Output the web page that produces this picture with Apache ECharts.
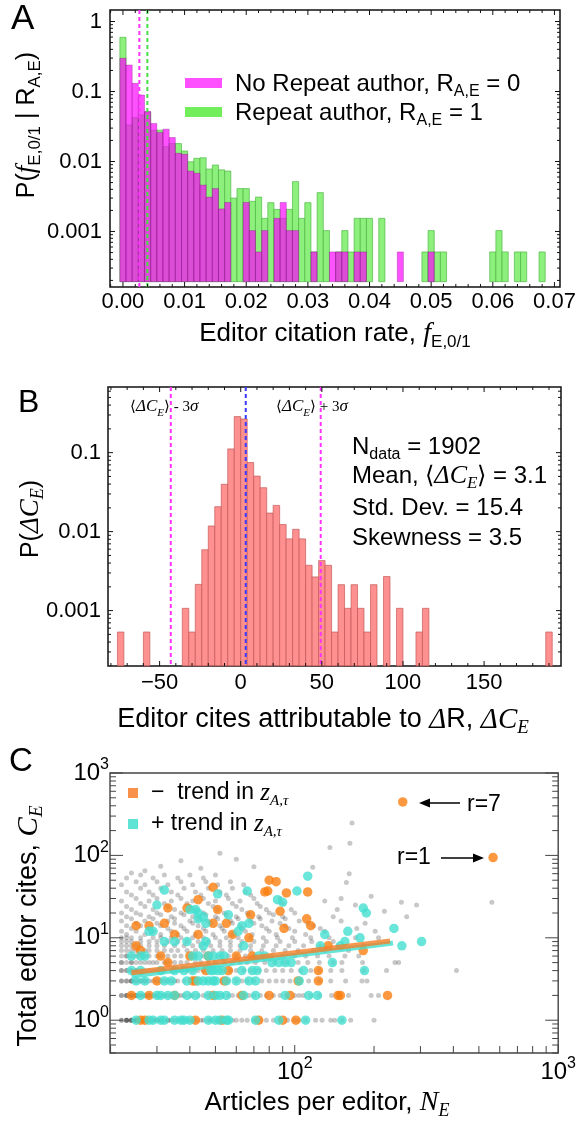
<!DOCTYPE html>
<html><head><meta charset="utf-8">
<script src="https://cdn.jsdelivr.net/npm/echarts@6/dist/echarts.min.js"></script>
<style>html,body{margin:0;padding:0;background:#fff}#c{width:579px;height:1121px}</style>
</head><body><div id="c"></div>
<script>
// ================= Panel A data =================
const binWidthA = 0.001;
const binCentersA = [0.000,0.001,0.002,0.003,0.004,0.005,0.006,0.007,0.008,0.009,0.010,0.011,0.012,0.013,0.014,0.015,0.016,0.017,0.018,0.019,0.020,0.021,0.022,0.023,0.024,0.025,0.026,0.027,0.028,0.029,0.030,0.031,0.032,0.033,0.034,0.035,0.036,0.037,0.038,0.039,0.040,0.041,0.042,0.043,0.044,0.045,0.046,0.047,0.048,0.049,0.050,0.051,0.052,0.053,0.054,0.055,0.056,0.057,0.058,0.059,0.060,0.061,0.062,0.063,0.064,0.065,0.066,0.067,0.068];
const noRepeatA = [0.298,0.239,0.131,0.089,0.052,0.035,0.026,0.029,0.022,0.0131,0.0127,0.0073,0.0068,0.0046,0.0031,0.0041,0.0021,0.0026,null,null,0.0026,0.00103,0.00051,0.00103,null,0.00154,0.0026,0.00103,0.00103,null,null,0.00051,null,null,0.00051,0.00051,0.00051,null,0.00051,0.00051,null,null,null,null,null,0.00051,null,null,null,null,0.00051,null,null,null,null,null,null,null,null,null,null,null,null,null,null,null,null,null,null];
const repeatA = [0.594,0.0332,0.0423,0.0462,0.051,0.028,0.028,0.0163,0.018,0.018,0.0141,0.0099,0.0111,0.0113,0.0078,0.0089,0.0076,0.0073,0.0030,0.0041,0.0041,0.0027,0.0031,0.00154,0.00258,0.00207,0.00154,0.00207,0.00515,0.00154,0.00258,0.00051,0.00359,0.00103,null,0.00051,0.00103,0.00051,0.00154,0.00154,0.00154,null,0.00154,null,null,null,null,null,null,0.00051,0.00103,0.00051,0.00051,null,null,null,null,null,null,null,0.00051,0.00103,0.00051,null,0.00051,0.00051,null,null,0.00051];
const meanNoRepeatA = 0.00266;
const meanRepeatA = 0.00396;
const baseA = 0.000192;
const xTicksA = [0,0.01,0.02,0.03,0.04,0.05,0.06,0.07];
const xTickLabelsA = ['0.00','0.01','0.02','0.03','0.04','0.05','0.06','0.07'];
const xMinorA = [-0.002,0.002,0.004,0.006,0.008,0.012,0.014,0.016,0.018,0.022,0.024,0.026,0.028,0.032,0.034,0.036,0.038,0.042,0.044,0.046,0.048,0.052,0.054,0.056,0.058,0.062,0.064,0.066,0.068];
const yTicksA = [0.001,0.01,0.1,1];
const yTickLabelsA = ['0.001','0.01','0.1','1'];
const yMinorA = [0.0002,0.0003,0.0004,0.0005,0.0006,0.0007,0.0008,0.0009,0.002,0.003,0.004,0.005,0.006,0.007,0.008,0.009,0.02,0.03,0.04,0.05,0.06,0.07,0.08,0.09,0.2,0.3,0.4,0.5,0.6,0.7,0.8,0.9];

// ================= Panel B data =================
const binWidthB = 4;
const binStartsB = [-76,-60,-36,-32,-28,-24,-20,-16,-12,-8,-4,0,4,8,12,16,20,24,28,32,36,40,44,48,52,56,60,64,68,72,76,80,88,96,108,112,188];
const probB = [0.000536,0.000536,0.00107,0.000536,0.00215,0.0059,0.0118,0.0207,0.0398,0.1116,0.286,0.267,0.075,0.0505,0.036,0.0172,0.0215,0.0123,0.0081,0.0107,0.0081,0.00375,0.00267,0.0043,0.00375,0.000536,0.00213,0.00107,0.00213,0.00107,0.000536,0.00213,0.0027,0.00107,0.000536,0.00107,0.000536];
const meanB = 3.1;
const lowerB = -43.1;
const upperB = 49.3;
const baseB = 0.0002;
const xTicksB = [-50,0,50,100,150];
const xTickLabelsB = ['\u221250','0','50','100','150'];
const xMinorB = [-80,-70,-60,-40,-30,-20,-10,10,20,30,40,60,70,80,90,110,120,130,140,160,170,180,190];
const yTicksB = [0.001,0.01,0.1];
const yTickLabelsB = ['0.001','0.01','0.1'];
const yMinorB = [0.0003,0.0004,0.0005,0.0006,0.0007,0.0008,0.0009,0.002,0.003,0.004,0.005,0.006,0.007,0.008,0.009,0.02,0.03,0.04,0.05,0.06,0.07,0.08,0.09,0.2,0.3,0.4,0.5,0.6];

// ================= Panel C data =================
const grayRow1 = [22,22,23,23,23,23,24,24,24,24,25,25,25,25,26,26,26,27,27,27,28,28,29,29,30,30,31,31,32,33,33,34,35,36,37,38,39,40,41,42,44,45,47,48,50,52,54,56,58,60,63,66,70,74,78,83,88,94,100,104,110,120,127,137,142,151,163,200];
const grayRow2 = [22,22,23,23,23,24,24,24,25,25,25,26,26,27,27,28,28,29,30,30,31,32,33,34,35,36,37,38,40,41,43,45,47,49,51,53,56,58,61,64,67,70,74,78,83,88,93,100,104,108,115,124,138,148,160,195,208];
const grayRow3 = [22,22,23,23,24,24,24,25,25,26,26,27,27,28,29,30,31,32,33,34,35,36,38,40,42,44,46,48,50,53,56,60,63,66,70,75,80,85,90,96,103,113,124,137,156,180,188];
const grayRow4 = [22,22,23,23,24,24,25,25,26,27,28,29,30,31,32,34,35,37,39,41,43,45,48,50,53,57,60,64,68,73,78,84,90,97,105,115,124,137,151,183,223,411];
const grayRow5 = [22,22,23,24,24,25,26,27,28,29,30,32,33,35,37,39,42,44,47,50,54,58,62,66,71,77,84,92,103,112,124,140,151,181,240,248];
const grayRow6 = [22,23,23,24,25,26,27,28,30,31,33,35,37,40,42,45,48,52,56,60,65,70,76,82,90,100,110,122,135,155,175];
const grayRow7 = [22,23,24,25,27,28,30,32,34,36,39,42,45,49,53,57,62,68,75,83,92,103,118,130,160];
const grayRow8 = [22,23,24,25,26,28,30,32,35,38,41,44,48,52,57,62,68,76,85,95,108,125,146,182];
const grayRow9 = [22,23,24,26,28,30,33,36,39,43,47,52,57,63,70,78,88,100,116,140];
const grayRow10 = [22,23,24,26,29,31,34,37,41,45,50,55,61,68,76,86,98,115,135,170,208];
const grayUpper = [[23,11],[27,11],[31,11],[36,11],[42,11],[49,11],[58,11],[69,11],[85,11],[110,11],
[22,12],[25,12],[29,12],[34,12],[39,12],[46,12],[54,12],[65,12],[80,12],[100,12],[130,12],[202,12],
[24,13],[28,13],[33,13],[38,13],[45,13],[53,13],[63,13],[78,13],[95,13],[125,13],[172,13],
[23,14],[26,14],[31,14],[37,14],[43,14],[52,14],[62,14],[75,14],[92,14],[118,14],
[25,15],[30,15],[35,15],[41,15],[48,15],[58,15],[70,15],[88,15],[112,15],[185,15],
[22,16],[27,16],[33,16],[40,16],[47,16],[57,16],[68,16],[82,16],[104,16],[150,16],
[24,17],[29,17],[35,17],[43,17],[51,17],[61,17],[74,17],[92,17],[140,18],
[23,18],[28,18],[34,18],[41,18],[50,18],[60,18],[73,18],[90,18],[266,18],
[26,19],[31,19],[38,19],[46,19],[55,19],[67,19],[83,19],[219,21],
[22,20],[25,20],[30,20],[37,20],[45,20],[54,20],[66,20],[80,20],[100,20],[145,22],
[24,22],[29,22],[35,22],[42,22],[51,22],[63,22],[78,22],[97,22],
[23,24],[27,24],[33,24],[40,24],[49,24],[60,24],[74,24],[290,25],[170,25],
[26,26],[32,26],[39,26],[47,26],[58,26],[72,26],[90,26],
[22,28],[28,28],[34,28],[41,28],[50,28],[62,28],[254,27],[130,28],
[25,30],[30,30],[37,30],[45,30],[56,30],[70,30],[88,30],[150,30],
[24,33],[29,33],[36,33],[44,33],[55,33],[68,33],[195,32],
[23,36],[28,36],[34,36],[42,36],[52,36],[65,36],
[26,40],[31,40],[38,40],[47,40],[58,40],
[22,44],[27,44],[33,44],[41,44],[51,44],[64,44],
[25,48],[30,48],[37,48],[46,48],[57,48],[157,47],
[23,53],[29,53],[36,53],[45,53],
[26,58],[32,58],[40,58],[50,58],
[24,61],[27,65],[31,74],[37,86],[52,106],[70,73],[117,72],[161,60],[136,125],[162,140],[165,247],[560,27],[44,70],[60,90]];
const orangePts = [[80,50],[85,48],[77,36],[79,37],[93,35],[49,41],[112,36],[43,29],[33,23],[39,23],[51,22],[88,21],[68,19],[111,17],[115,14],[28,14],[49,15],[55,15],[91,13],[25,14],[32,15],[35,11],[43,11],[58,11],[67,10],[25,8],[26,7],[31,6],[40,6],[47,6],[60,6],[69,6],[134,8],[182,7],[33,5],[46,4],[56,4],[123,4],[30,3],[41,3],[42,3],[54,3],[103,3],[123,3],
[24,2],[28,2],[35,2],[49,2],[63,2],[80,2],[96,2],[146,2],[149,2],[225,2],
[26,1],[27,1],[42,1],[53,1],[73,1],[90,1],[101,1],
[257,445],[566,94]];
const cyanPts = [[112,56],[30,25],[32,38],[51,34],[66,37],[102,37],[86,29],[90,27],[40,22],[42,22],[43,20],[43,17],[45,18],[46,15],[56,19],[61,12],[63,14],[67,15],[28,12],[29,12],[32,9],[35,9],[39,9],[45,8],[46,9],[64,8],[130,11],[125,8],
[182,23],[187,20],[159,12],[177,10],[155,9],[149,8],[238,13],[255,8],[303,9],
[24,6],[26,6],[27,6],[41,6],[43,6],[47,6],[49,6],[52,6],[54,6],[73,6],[77,6],[82,5],[87,5],[92,5],[97,5],[139,5],
[24,4],[26,4],[31,4],[35,4],[38,4],[41,4],[48,4],[49,4],[51,4],[53,4],[63,4],[69,4],[72,4],[108,4],[184,4],
[25,3],[27,3],[32,3],[34,3],[39,3],[43,3],[45,3],[47,3],[49,3],[50,3],[55,3],[60,3],[67,3],[71,3],[104,3],
[26,2],[30,2],[31,2],[33,2],[35,2],[39,2],[42,2],[47,2],[50,2],[52,2],[55,2],[64,2],[71,2],[92,2],[113,2],[122,2],
[25,1],[28,1],[29,1],[31,1],[32,1],[35,1],[37,1],[38,1],[40,1],[47,1],[50,1],[52,1],[55,1],[56,1],[71,1],[87,1],[110,1],[151,1]];
const trendNeg = [[24,3.76],[230,9.14]];
const trendPos = [[24,3.43],[236,8.65]];
const xTicksC = [100,1000];
const xTickExpC = ['2','3'];
const xMinorC = [20,30,40,50,60,70,80,90,200,300,400,500,600,700,800,900];
const yTicksC = [1,10,100,1000];
const yTickExpC = ['0','1','2','3'];
const yMinorC = [0.4,0.5,0.6,0.7,0.8,0.9,2,3,4,5,6,7,8,9,20,30,40,50,60,70,80,90,200,300,400,500,600,700,800,900];

// ================= helpers =================
const FONT = 'Liberation Sans';
const SERIF = 'Liberation Serif';

function R(fs, ss) {
  const L = fs + 8;
  return {
    n: {fontFamily: FONT, fontSize: fs, lineHeight: L, color: '#000', fill: '#000'},
    i: {fontFamily: SERIF, fontStyle: 'italic', fontSize: fs + 2, lineHeight: L, color: '#000', fill: '#000'},
    s: {fontFamily: SERIF, fontSize: fs, lineHeight: L, color: '#000', fill: '#000'},
    sub: {fontFamily: FONT, fontSize: ss, lineHeight: ss, verticalAlign: 'bottom', color: '#000', fill: '#000'},
    isub: {fontFamily: SERIF, fontStyle: 'italic', fontSize: ss + 1, lineHeight: ss, verticalAlign: 'bottom', color: '#000', fill: '#000'},
    sup: {fontFamily: FONT, fontSize: ss, lineHeight: ss, verticalAlign: 'top', color: '#000', fill: '#000'}
  };
}

function labelFrom(ticks, labels, log) {
  return function (v) {
    for (let i = 0; i < ticks.length; i++) {
      const d = log ? Math.abs(Math.log10(v) - Math.log10(ticks[i])) : Math.abs(v - ticks[i]);
      if (d < 1e-6 * (1 + Math.abs(ticks[i]))) return labels[i];
    }
    return '';
  };
}

function axisBase(extra) {
  return Object.assign({
    axisLine: {show: false}, axisTick: {show: false}, splitLine: {show: false},
    minorTick: {show: false}, minorSplitLine: {show: false}
  }, extra);
}

function tickSeries(idx, xMaj, xMin, yMaj, yMin, xRef, yRef, lens, color, width, topTicks) {
  const data = [];
  xMaj.forEach(v => data.push([v, yRef, 0]));
  xMin.forEach(v => data.push([v, yRef, 1]));
  yMaj.forEach(v => data.push([xRef, v, 2]));
  yMin.forEach(v => data.push([xRef, v, 3]));
  return {
    type: 'custom', xAxisIndex: idx, yAxisIndex: idx, data: data, encode: {x: 0, y: 1},
    silent: true, z: 20, clip: false, animation: false,
    renderItem: function (params, api) {
      const cs = params.coordSys;
      const item = data[params.dataIndex];
      const t = item[2];
      const p = api.coord([item[0], item[1]]);
      const L = lens[t];
      const st = {stroke: color, lineWidth: width};
      if (t < 2) {
        const ch = [{type: 'line', shape: {x1: p[0], y1: cs.y + cs.height, x2: p[0], y2: cs.y + cs.height - L}, style: st}];
        if (topTicks) ch.push({type: 'line', shape: {x1: p[0], y1: cs.y, x2: p[0], y2: cs.y + L}, style: st});
        return {type: 'group', children: ch};
      }
      return {type: 'group', children: [
        {type: 'line', shape: {x1: cs.x, y1: p[1], x2: cs.x + L, y2: p[1]}, style: st},
        {type: 'line', shape: {x1: cs.x + cs.width, y1: p[1], x2: cs.x + cs.width - L, y2: p[1]}, style: st}
      ]};
    }
  };
}

function histSeries(idx, starts, width, values, base, fill, stroke, z) {
  const data = [];
  starts.forEach((s, k) => { if (values[k] != null) data.push([s, s + width, values[k]]); });
  return {
    type: 'custom', xAxisIndex: idx, yAxisIndex: idx, data: data, encode: {x: [0, 1], y: 2},
    silent: true, z: z, animation: false,
    renderItem: function (params, api) {
      const item = data[params.dataIndex];
      const p0 = api.coord([item[0], item[2]]);
      const p1 = api.coord([item[1], base]);
      return {type: 'rect', shape: {x: p0[0], y: p0[1], width: p1[0] - p0[0], height: p1[1] - p0[1]},
        style: {fill: fill, stroke: stroke, lineWidth: 0.8}};
    }
  };
}

function vlineSeries(idx, xs, yRef, color, z) {
  const data = xs.map(x => [x, yRef]);
  return {
    type: 'custom', xAxisIndex: idx, yAxisIndex: idx, data: data, encode: {x: 0, y: 1},
    silent: true, z: z, animation: false,
    renderItem: function (params, api) {
      const cs = params.coordSys;
      const item = data[params.dataIndex];
      const p = api.coord([item[0], item[1]]);
      return {type: 'line', shape: {x1: p[0], y1: cs.y, x2: p[0], y2: cs.y + cs.height},
        style: {stroke: color, lineWidth: 2, lineDash: [4, 3]}};
    }
  };
}

const binStartsA = binCentersA.map(c => c - binWidthA / 2);

const grayPts = [];
[grayRow1, grayRow2, grayRow3, grayRow4, grayRow5, grayRow6, grayRow7, grayRow8, grayRow9, grayRow10].forEach((row, k) => {
  row.forEach(n => grayPts.push([n, k + 1]));
});
grayUpper.forEach(p => grayPts.push(p));

// ================= axes =================
const xMinA = -0.0021, xMaxA = 0.0709, yMinA = 0.000161, yMaxA = 1.46;
const xMinB = -81.8, xMaxB = 197.4, yMinB = 0.000199, yMaxB = 0.678;
const xMinC = 19.9, xMaxC = 1000, yMinC = 0.4, yMaxC = 1000;

const tickLabelStyle = {fontFamily: FONT, fontSize: 22, color: '#000'};

const option = {
  animation: false,
  backgroundColor: '#fff',
  grid: [
    {left: 110, top: 10, width: 450, height: 277, show: true, borderColor: '#111', borderWidth: 1.5, backgroundColor: 'transparent'},
    {left: 108, top: 387, width: 453, height: 279, show: true, borderColor: '#111', borderWidth: 1.5, backgroundColor: 'transparent'},
    {left: 110, top: 773, width: 451, height: 280, show: true, borderColor: '#444', borderWidth: 1.4, backgroundColor: 'transparent'}
  ],
  xAxis: [
    axisBase({type: 'value', gridIndex: 0, min: xMinA, max: xMaxA, splitNumber: 7,
      axisLabel: Object.assign({formatter: labelFrom(xTicksA, xTickLabelsA, false), margin: 4}, tickLabelStyle)}),
    axisBase({type: 'value', gridIndex: 1, min: xMinB, max: xMaxB, splitNumber: 5,
      axisLabel: Object.assign({formatter: labelFrom(xTicksB, xTickLabelsB, false), margin: 6}, tickLabelStyle)}),
    axisBase({type: 'log', logBase: 10, gridIndex: 2, min: xMinC, max: xMaxC,
      axisLabel: {margin: 3, formatter: function (v) { const l = labelFrom(xTicksC, xTickExpC, true)(v); return l === '' ? '' : '{n|10}{sup|' + l + '}'; }, rich: R(24, 16)}})
  ],
  yAxis: [
    axisBase({type: 'log', logBase: 10, gridIndex: 0, min: yMinA, max: yMaxA,
      axisLabel: Object.assign({formatter: labelFrom(yTicksA, yTickLabelsA, true), margin: 8}, tickLabelStyle)}),
    axisBase({type: 'log', logBase: 10, gridIndex: 1, min: yMinB, max: yMaxB,
      axisLabel: Object.assign({formatter: labelFrom(yTicksB, yTickLabelsB, true), margin: 7}, tickLabelStyle)}),
    axisBase({type: 'log', logBase: 10, gridIndex: 2, min: yMinC, max: yMaxC,
      axisLabel: {margin: 1, formatter: function (v) { const l = labelFrom(yTicksC, yTickExpC, true)(v); return l === '' ? '' : '{n|10}{sup|' + l + '}'; }, rich: R(24, 16)}})
  ],
  series: [
    // Panel A
    histSeries(0, binStartsA, binWidthA, repeatA, baseA, '#8ef07c', 'rgba(70,180,60,0.8)', 2),
    histSeries(0, binStartsA, binWidthA, noRepeatA, baseA, 'rgba(255,0,255,0.68)', 'rgba(130,0,130,0.4)', 3),
    vlineSeries(0, [meanNoRepeatA], 0.01, '#ff33ff', 5),
    vlineSeries(0, [meanRepeatA], 0.01, '#44e044', 5),
    tickSeries(0, xTicksA, xMinorA, yTicksA, yMinorA, xMinA, yMinA, [5, 3, 5, 3], '#111', 1, true),
    // Panel B
    histSeries(1, binStartsB, binWidthB, probB, baseB, '#ff9090', 'rgba(190,80,80,0.8)', 2),
    vlineSeries(1, [lowerB, upperB], 0.01, '#ff33ff', 5),
    vlineSeries(1, [meanB], 0.01, '#3a3aff', 5),
    tickSeries(1, xTicksB, xMinorB, yTicksB, yMinorB, xMinB, yMinB, [5, 3, 5, 3], '#111', 1, true),
    // Panel C
    {type: 'scatter', xAxisIndex: 2, yAxisIndex: 2, data: grayPts, symbolSize: 5, silent: true, z: 2,
      itemStyle: {color: 'rgba(30,30,30,0.3)'}},
    {type: 'scatter', xAxisIndex: 2, yAxisIndex: 2, data: orangePts, symbolSize: 9.5, silent: true, z: 3,
      itemStyle: {color: '#fb7f10'}},
    {type: 'scatter', xAxisIndex: 2, yAxisIndex: 2, data: cyanPts, symbolSize: 9.5, silent: true, z: 4,
      itemStyle: {color: '#44e0cf'}},
    {type: 'line', xAxisIndex: 2, yAxisIndex: 2, data: trendPos, symbol: 'none', silent: true, z: 6,
      lineStyle: {color: 'rgba(64,222,206,0.8)', width: 5}},
    {type: 'line', xAxisIndex: 2, yAxisIndex: 2, data: trendNeg, symbol: 'none', silent: true, z: 7,
      lineStyle: {color: 'rgba(246,128,40,0.8)', width: 5}},
    tickSeries(2, xTicksC, xMinorC, yTicksC, yMinorC, xMinC, yMinC, [8, 7, 13, 6], '#444', 1, false)
  ],
  graphic: []
};

// ================= texts / annotations =================
function T(x, y, text, rich, fs, opts) {
  opts = opts || {};
  return {type: 'text', x: x, y: y, silent: true, z: 100, rotation: opts.rotation || 0,
    style: {text: text, rich: rich || undefined, fill: '#000', align: opts.align || 'left',
      verticalAlign: 'middle', fontFamily: FONT, fontSize: fs || 22}};
}
const g = option.graphic;
// panel letters
g.push(T(11, 19, 'A', null, 35));
g.push(T(18, 403, 'B', null, 32));
g.push(T(9, 762, 'C', null, 33));

// panel A legend
g.push({type: 'rect', shape: {x: 185, y: 78, width: 37, height: 10}, style: {fill: '#ff50ff'}, silent: true, z: 100});
g.push({type: 'rect', shape: {x: 185, y: 107, width: 37, height: 10}, style: {fill: '#72ee5c'}, silent: true, z: 100});
g.push(T(235, 84, '{n|No Repeat author, R}{sub|A,E}{n| = 0}', R(24, 16)));
g.push(T(235, 113, '{n|Repeat author, R}{sub|A,E}{n| = 1}', R(24, 16)));
// panel A titles
g.push(T(335, 334, '{n|Editor citation rate, }{i|f}{sub|E,0/1}', R(26, 17), 22, {align: 'center'}));
g.push(T(27, 125, '{n|P(}{i|f}{sub|E,0/1}{n| | R}{sub|A,E}{n|)}', R(25, 17), 22, {rotation: Math.PI / 2, align: 'center'}));

// panel B texts
g.push(T(130, 407, '{s|\u27E8}{i|\u0394C}{isub|E}{s|\u27E9 - 3}{i|\u03C3}', R(15, 10)));
g.push(T(276, 407, '{s|\u27E8}{i|\u0394C}{isub|E}{s|\u27E9 + 3}{i|\u03C3}', R(15, 10)));
g.push(T(352, 447, '{n|N}{sub|data}{n| = 1902}', R(24, 16)));
g.push(T(352, 476, '{n|Mean, \u27E8}{i|\u0394C}{isub|E}{n|\u27E9 = 3.1}', R(24, 16)));
g.push(T(352, 508, '{n|Std. Dev. = 15.4}', R(24, 16)));
g.push(T(352, 538, '{n|Skewness = 3.5}', R(24, 16)));
g.push(T(323, 720, '{n|Editor cites attributable to }{i|\u0394}{n|R, }{i|\u0394C}{isub|E}', R(27, 18), 22, {align: 'center'}));
g.push(T(31, 519, '{n|P(}{i|\u0394C}{isub|E}{n|)}', R(25, 17), 22, {rotation: Math.PI / 2, align: 'center'}));

// panel C legend
g.push({type: 'rect', shape: {x: 128, y: 788, width: 10, height: 10}, style: {fill: '#f8924a'}, silent: true, z: 100});
g.push({type: 'rect', shape: {x: 128, y: 819, width: 10, height: 10}, style: {fill: '#5fe3d4'}, silent: true, z: 100});
g.push(T(151, 793, '{n|\u2212  trend in }{i|z}{isub|A,\u03C4}', R(23, 14)));
g.push(T(151, 824, '{n|+ trend in }{i|z}{isub|A,\u03C4}', R(23, 14)));
// panel C titles
g.push(T(327, 1103, '{n|Articles per editor, }{i|N}{isub|E}', R(26, 17), 22, {align: 'center'}));
g.push(T(29, 926, '{n|Total editor cites, }{i|C}{isub|E}', R(27, 18), 22, {rotation: Math.PI / 2, align: 'center'}));
// panel C annotations
g.push(T(467, 805, 'r=7', null, 23));
g.push(T(397, 858, 'r=1', null, 23));
g.push({type: 'line', shape: {x1: 460, y1: 803, x2: 426, y2: 803}, style: {stroke: '#000', lineWidth: 1.5}, silent: true, z: 100});
g.push({type: 'polygon', shape: {points: [[419, 803], [430, 798.5], [430, 807.5]]}, style: {fill: '#000'}, silent: true, z: 100});
g.push({type: 'line', shape: {x1: 441, y1: 858, x2: 476, y2: 858}, style: {stroke: '#000', lineWidth: 1.5}, silent: true, z: 100});
g.push({type: 'polygon', shape: {points: [[484, 858], [473, 853.5], [473, 862.5]]}, style: {fill: '#000'}, silent: true, z: 100});

const chart = echarts.init(document.getElementById('c'), null, {renderer: 'canvas', width: 579, height: 1121});
chart.setOption(option);
</script>
</body></html>
